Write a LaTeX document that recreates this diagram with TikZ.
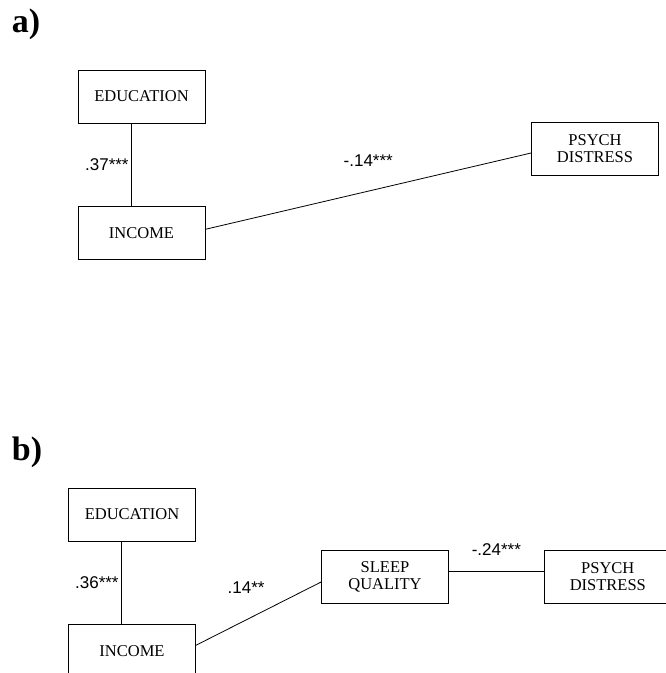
\documentclass[tikz,border=0pt]{standalone}
\usepackage{fontspec}
\setmainfont{Liberation Serif}
\newfontfamily\coeffont{Liberation Sans}
\usetikzlibrary{positioning}
\tikzstyle{var} = [draw=black, line width=0.8pt, minimum width=127pt, minimum height=53pt,
  align=center, font=\fontsize{16.5}{17}\selectfont, inner sep=2pt]
\tikzstyle{path} = [line width=0.8pt, draw=black]
\tikzstyle{coef} = [font=\coeffont\fontsize{17}{18}\selectfont, inner sep=2pt]
\tikzstyle{panel} = [font=\bfseries\fontsize{34}{34}\selectfont, inner sep=0pt]

\begin{document}
\begin{tikzpicture}[x=1pt,y=-1pt,node distance=83pt]
    \useasboundingbox (0,0) rectangle (666,673);
    \clip (0,0) rectangle (666,673);

    % panel a
    \node (la) [panel] at (26,24) {a)};
    \node (eduA) [var] at (141.5,96.5) {EDUCATION};
    \node (incA) [var] [below=of eduA] {INCOME};
    \node (psyA) [var] at (595,148.5) {PSYCH\\DISTRESS};

    \path[path] ([xshift=-10.5pt]eduA.south) edge node [coef,left] {.37***} ([xshift=-10.5pt]incA.north);
    \path[path] ([yshift=4pt]incA.east) edge node [coef,above=22pt] {-.14***} ([yshift=-4.5pt]psyA.west);

    % panel b
    \node (lb) [panel] at (27,452) {b)};
    \node (eduB) [var] at (132,514.5) {EDUCATION};
    \node (incB) [var] [below=of eduB] {INCOME};
    \node (slpB) [var] at (385,576.5) {SLEEP\\QUALITY};
    \node (psyB) [var] [right=95pt of slpB] {PSYCH\\DISTRESS};

    \path[path] ([xshift=-11pt]eduB.south) edge node [coef,left] {.36***} ([xshift=-11pt]incB.north);
    \path[path] ([yshift=6pt]incB.east) edge node [coef,pos=0.4,above left=24pt and -21pt] {.14**} ([yshift=-5.5pt]slpB.west);
    \path[path] ([yshift=5pt]slpB.east) edge node [coef,above=14pt] {-.24***} ([yshift=5pt]psyB.west);
\end{tikzpicture}
\end{document}
